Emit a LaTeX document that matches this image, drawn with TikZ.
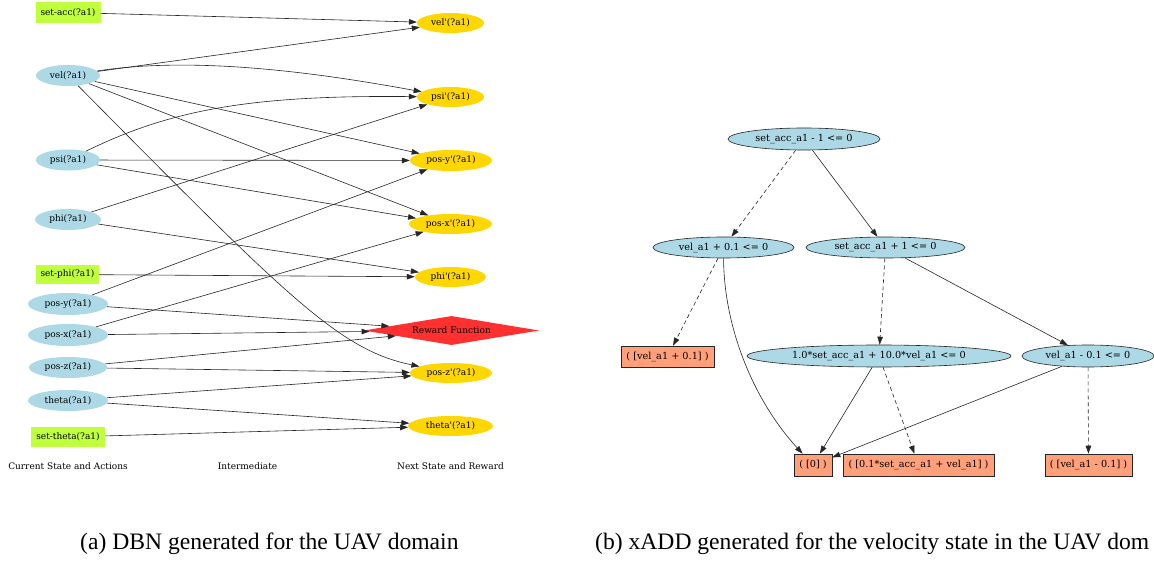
\documentclass[tikz,border=0pt]{standalone}
\usepackage{fontspec}
\setmainfont{Liberation Serif}
\newfontfamily\dvs{DejaVu Serif}[Ligatures=TeXOff]
\usetikzlibrary{shapes.geometric,arrows.meta}
\definecolor{lblue}{HTML}{ADD8E6}
\definecolor{goldc}{HTML}{FFD700}
\definecolor{lgreen}{HTML}{C0FF3E}
\definecolor{fred}{HTML}{FF3030}
\definecolor{lsalmon}{HTML}{FFA07A}
\begin{document}
\begin{tikzpicture}[x=1pt,y=-1pt,
  lt/.style={font=\dvs\fontsize{9}{10}\selectfont, inner sep=0pt},
  rt/.style={font=\dvs\fontsize{9.7}{11}\selectfont, inner sep=0pt},
  stnode/.style={lt, ellipse, fill=lblue},
  nxnode/.style={lt, ellipse, fill=goldc},
  actnode/.style={lt, rectangle, fill=lgreen},
  rwnode/.style={lt, diamond, aspect=6, fill=fred},
  dnode/.style={rt, ellipse, fill=lblue, draw=black!85, line width=0.6pt},
  lfnode/.style={rt, rectangle, fill=lsalmon, draw=black!85, line width=0.6pt},
  arr/.style={-{Triangle[length=8pt,width=5.5pt]}, line width=0.6pt, draw=black!85},
  arrd/.style={arr, dash pattern=on 4pt off 3pt},
  capt/.style={font=\fontsize{23.6}{28}\selectfont, inner sep=0pt, anchor=base west},
  sz/.style 2 args={minimum width=#1pt, minimum height=#2pt}
]
\useasboundingbox[fill=white] (0,0) rectangle (1154,561);

% ---------- left panel: DBN ----------
\node[actnode, sz={65}{21}] (setacc) at (68,12.5) {set-acc(?a1)};
\node[stnode, sz={64}{21}] (vel) at (68,75.5) {vel(?a1)};
\node[stnode, sz={64}{21}] (psi) at (68,160) {psi(?a1)};
\node[stnode, sz={66}{21}] (phi) at (68,219.5) {phi(?a1)};
\node[actnode, sz={63}{19}] (setphi) at (67.5,274.5) {set-phi(?a1)};
\node[stnode, sz={80}{22}] (posy) at (68,304) {pos-y(?a1)};
\node[stnode, sz={80}{22}] (posx) at (68,335) {pos-x(?a1)};
\node[stnode, sz={78}{21}] (posz) at (68,367.5) {pos-z(?a1)};
\node[stnode, sz={80}{21}] (theta) at (68,400.5) {theta(?a1)};
\node[actnode, sz={74}{20}] (settheta) at (68,437) {set-theta(?a1)};

\node[nxnode, sz={67}{20}] (velp) at (450.5,23) {vel'(?a1)};
\node[nxnode, sz={67}{20}] (psip) at (450.5,97) {psi'(?a1)};
\node[nxnode, sz={82}{21}] (posyp) at (451,160.5) {pos-y'(?a1)};
\node[nxnode, sz={83}{20}] (posxp) at (450.5,224) {pos-x'(?a1)};
\node[nxnode, sz={71}{20}] (phip) at (450.5,277) {phi'(?a1)};
\node[rwnode, sz={175}{29}] (reward) at (451.5,330.5) {Reward Function};
\node[nxnode, sz={82}{20}] (poszp) at (451,373) {pos-z'(?a1)};
\node[nxnode, sz={85}{20}] (thetap) at (450.5,426) {theta'(?a1)};

\node[lt] (lab1) at (68,466) {Current State and Actions};
\node[lt] (lab2) at (247.5,466) {Intermediate};
\node[lt] (lab3) at (450.5,466) {Next State and Reward};

\draw[arr] (setacc) -- (velp);
\draw[arr] (vel) -- (velp);
\draw[arr] (vel) .. controls (200,55) and (330,75) .. (psip);
\draw[arr] (vel) -- (posyp);
\draw[arr] (vel) -- (posxp);
\draw[arr] (vel) .. controls (290,300) and (340,350) .. (poszp);
\draw[arr] (psi) .. controls (170,110) and (250,95) .. (psip);
\draw[arr] (psi) -- (posyp);
\draw[arr] (psi) -- (posxp);
\draw[arr] (phi) -- (psip);
\draw[arr] (phi) -- (phip);
\draw[arr] (setphi) -- (phip);
\draw[arr] (posy) -- (posyp);
\draw[arr] (posy) -- (reward);
\draw[arr] (posx) -- (posxp);
\draw[arr] (posx) -- (reward);
\draw[arr] (posz) -- (reward);
\draw[arr] (posz) -- (poszp);
\draw[arr] (theta) -- (poszp);
\draw[arr] (theta) -- (thetap);
\draw[arr] (settheta) -- (thetap);

% ---------- right panel: xADD ----------
\node[dnode, sz={152}{22}] (root) at (804,139) {set\_acc\_a1 - 1 <= 0};
\node[dnode, sz={141}{21}] (vpos) at (723.5,247.5) {vel\_a1 + 0.1 <= 0};
\node[dnode, sz={159}{21}] (sap) at (885.5,247.5) {set\_acc\_a1 + 1 <= 0};
\node[lfnode, sz={93}{21}] (lf1) at (667.5,356.5) {( [vel\_a1 + 0.1] )};
\node[dnode, sz={264}{22}] (big) at (879,356) {1.0*set\_acc\_a1 + 10.0*vel\_a1 <= 0};
\node[dnode, sz={132}{22}] (vneg) at (1088,356) {vel\_a1 - 0.1 <= 0};
\node[lfnode, sz={38}{22}] (lf0) at (813,465) {( [0] )};
\node[lfnode, sz={151}{22}] (lfmid) at (918.5,465) {( [0.1*set\_acc\_a1 + vel\_a1] )};
\node[lfnode, sz={87}{22}] (lfr) at (1088.5,465) {( [vel\_a1 - 0.1] )};

\draw[arrd] (root) -- (vpos);
\draw[arr] (root) -- (sap);
\draw[arrd] (vpos) -- (lf1);
\draw[arr] (vpos) .. controls (724,330) and (755,402) .. (lf0);
\draw[arrd] (sap) -- (big);
\draw[arr] (sap) -- (vneg);
\draw[arr] (big) -- (lf0);
\draw[arrd] (big) -- (lfmid);
\draw[arr] (vneg) -- (lf0);
\draw[arrd] (vneg) -- (lfr);

% ---------- captions ----------
\node[capt] (capa) at (80,549) {(a) DBN generated for the UAV domain};
\node[capt] (capb) at (595,549) {(b) xADD generated for the velocity state in the UAV dom};
\end{tikzpicture}
\end{document}
